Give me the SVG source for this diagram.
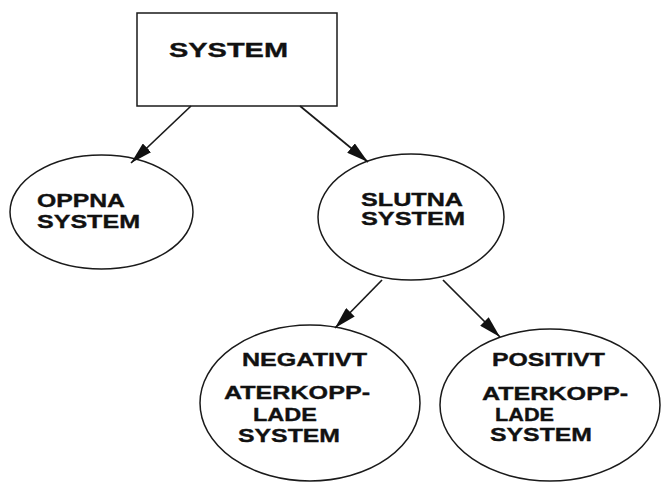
<svg xmlns="http://www.w3.org/2000/svg" width="661" height="482" viewBox="0 0 661 482">
<style>
.shape{fill:none;stroke:#1a1a1a;stroke-width:1.5}
.edge{stroke:#1a1a1a;stroke-width:1.7;fill:none}
.t{font-family:"Liberation Sans",Arial,sans-serif;font-weight:bold;fill:#111;stroke:#111;stroke-width:0.35;font-size:18px}
.big{font-size:21px}
</style>
<defs>
<marker id="ah" markerWidth="22" markerHeight="12" refX="22" refY="6" orient="auto" markerUnits="userSpaceOnUse">
<path d="M0,0 L22,6 L0,12 Z" fill="#111"/>
</marker>
</defs>
<rect width="661" height="482" fill="#fff"/>
<g id="system">
<rect class="shape" x="137" y="13" width="200" height="93"/>
<text class="t big" x="169" y="57" textLength="119" lengthAdjust="spacingAndGlyphs">SYSTEM</text>
</g>
<g id="oppna">
<ellipse class="shape" cx="101.5" cy="212" rx="91.5" ry="57"/>
<text class="t" x="37" y="207" textLength="88" lengthAdjust="spacingAndGlyphs">OPPNA</text>
<text class="t" x="37" y="228" textLength="103" lengthAdjust="spacingAndGlyphs">SYSTEM</text>
</g>
<g id="slutna">
<ellipse class="shape" cx="411" cy="217" rx="93" ry="63"/>
<text class="t" x="361" y="206" textLength="102" lengthAdjust="spacingAndGlyphs">SLUTNA</text>
<text class="t" x="361" y="225" textLength="104" lengthAdjust="spacingAndGlyphs">SYSTEM</text>
</g>
<g id="negativt">
<ellipse class="shape" cx="310" cy="403" rx="110" ry="78"/>
<text class="t" x="242" y="366" textLength="125" lengthAdjust="spacingAndGlyphs">NEGATIVT</text>
<text class="t" x="224" y="399" textLength="146" lengthAdjust="spacingAndGlyphs">ATERKOPP-</text>
<text class="t" x="253" y="421" textLength="64" lengthAdjust="spacingAndGlyphs">LADE</text>
<text class="t" x="238" y="442" textLength="102" lengthAdjust="spacingAndGlyphs">SYSTEM</text>
</g>
<g id="positivt">
<ellipse class="shape" cx="550" cy="405" rx="110" ry="76"/>
<text class="t" x="492" y="366" textLength="113" lengthAdjust="spacingAndGlyphs">POSITIVT</text>
<text class="t" x="482" y="400" textLength="146" lengthAdjust="spacingAndGlyphs">ATERKOPP-</text>
<text class="t" x="495" y="421" textLength="59" lengthAdjust="spacingAndGlyphs">LADE</text>
<text class="t" x="490" y="441" textLength="102" lengthAdjust="spacingAndGlyphs">SYSTEM</text>
</g>
<g id="connectors">
<line class="edge" x1="191" y1="106" x2="131" y2="163" marker-end="url(#ah)"/>
<line class="edge" x1="300" y1="106" x2="368" y2="162" marker-end="url(#ah)"/>
<line class="edge" x1="382" y1="280" x2="335" y2="328" marker-end="url(#ah)"/>
<line class="edge" x1="443" y1="280" x2="500" y2="337" marker-end="url(#ah)"/>
</g>
</svg>
